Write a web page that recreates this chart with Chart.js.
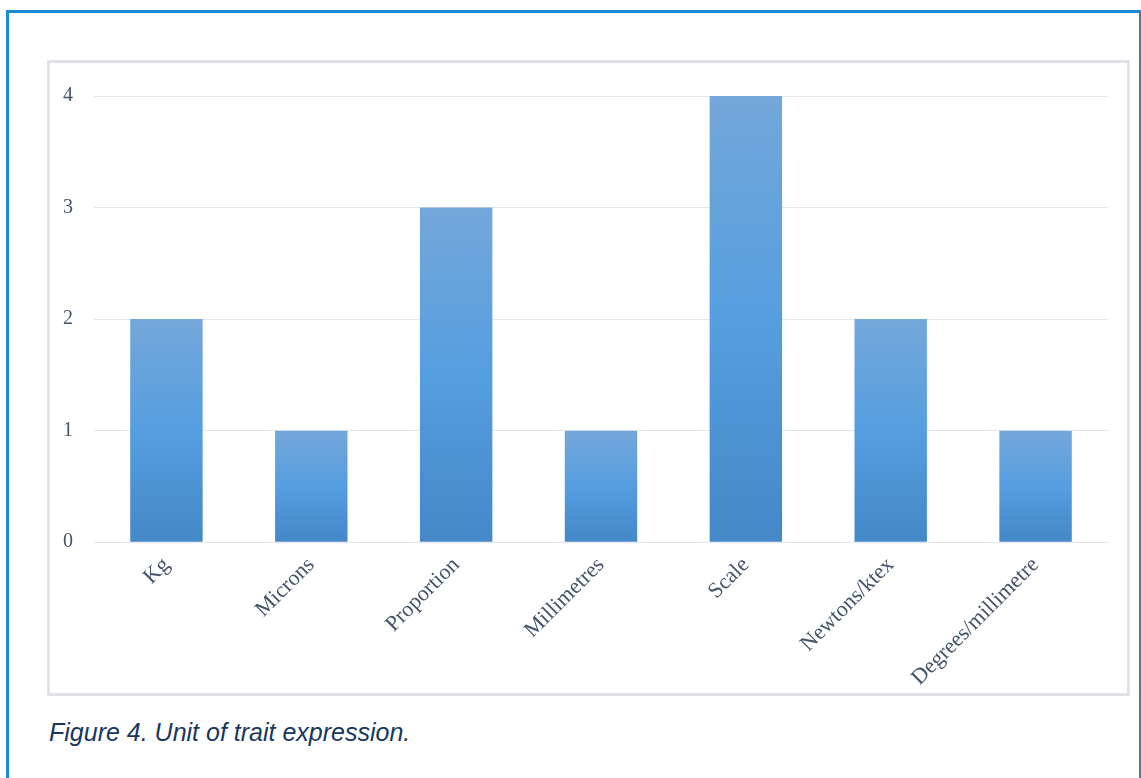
<!DOCTYPE html>
<html>
<head>
<meta charset="utf-8">
<script src="https://cdn.jsdelivr.net/npm/chart.js@4.4.0/dist/chart.umd.min.js"></script>
<style>
  body { margin: 0; background: #fff; width: 1141px; height: 778px; overflow: hidden; position: relative; }
  #frame { position: absolute; left: 6px; top: 10px; width: 1130px; height: 800px; border: 3px solid #1a8ad4; border-bottom: none; }
  #box { position: absolute; left: 47px; top: 60px; width: 1077px; height: 630px; border: 3px solid #dfe3e9; }
  #box canvas { display: block; }
  #caption { position: absolute; left: 49px; top: 718px; font-family: "Liberation Sans", Arial, sans-serif; font-style: italic; font-size: 25px; color: #173760; }
</style>
</head>
<body>
<div id="frame"></div>
<div id="box"><canvas id="unitChart" width="1077" height="630"></canvas></div>
<div id="caption">Figure 4. Unit of trait expression.</div>
<script>
var units = ["Kg", "Microns", "Proportion", "Millimetres", "Scale", "Newtons/ktex", "Degrees/millimetre"];
var counts = [2, 1, 3, 1, 4, 2, 1];
var yTicks = [0, 1, 2, 3, 4];

function barFill(ctx) {
  var chart = ctx.chart;
  var y = chart.scales.y;
  if (!chart.chartArea || !y || !ctx.parsed) return "#559ee0";
  var top = y.getPixelForValue(ctx.parsed.y);
  var base = y.getPixelForValue(0);
  if (!isFinite(top) || !isFinite(base) || top === base) return "#559ee0";
  var g = chart.ctx.createLinearGradient(0, top, 0, base);
  g.addColorStop(0, "#74a7da");
  g.addColorStop(0.5, "#559ee0");
  g.addColorStop(1, "#4488c8");
  return g;
}

new Chart(document.getElementById("unitChart").getContext("2d"), {
  type: "bar",
  data: {
    labels: units,
    datasets: [{
      data: counts,
      backgroundColor: barFill,
      borderWidth: 0,
      categoryPercentage: 1,
      barPercentage: 0.5
    }]
  },
  options: {
    responsive: false,
    animation: false,
    layout: { padding: { top: 31, right: 19, left: 12, bottom: 0 } },
    plugins: { legend: { display: false }, tooltip: { enabled: false } },
    scales: {
      x: {
        grid: { display: false },
        border: { display: false },
        ticks: {
          minRotation: 45, maxRotation: 45, padding: 2,
          color: "#44546a",
          font: { family: "Liberation Serif", size: 22 }
        }
      },
      y: {
        min: 0, max: 4,
        afterBuildTicks: function (s) { s.ticks = yTicks.map(function (v) { return { value: v }; }); },
        afterFit: function (s) { s.width = 32; },
        grid: { color: "#e4e8ee", lineWidth: 1, drawTicks: false },
        border: { display: false },
        ticks: {
          padding: 21,
          color: "#44546a",
          font: { family: "Liberation Serif", size: 20 }
        }
      }
    }
  }
});
</script>
</body>
</html>
